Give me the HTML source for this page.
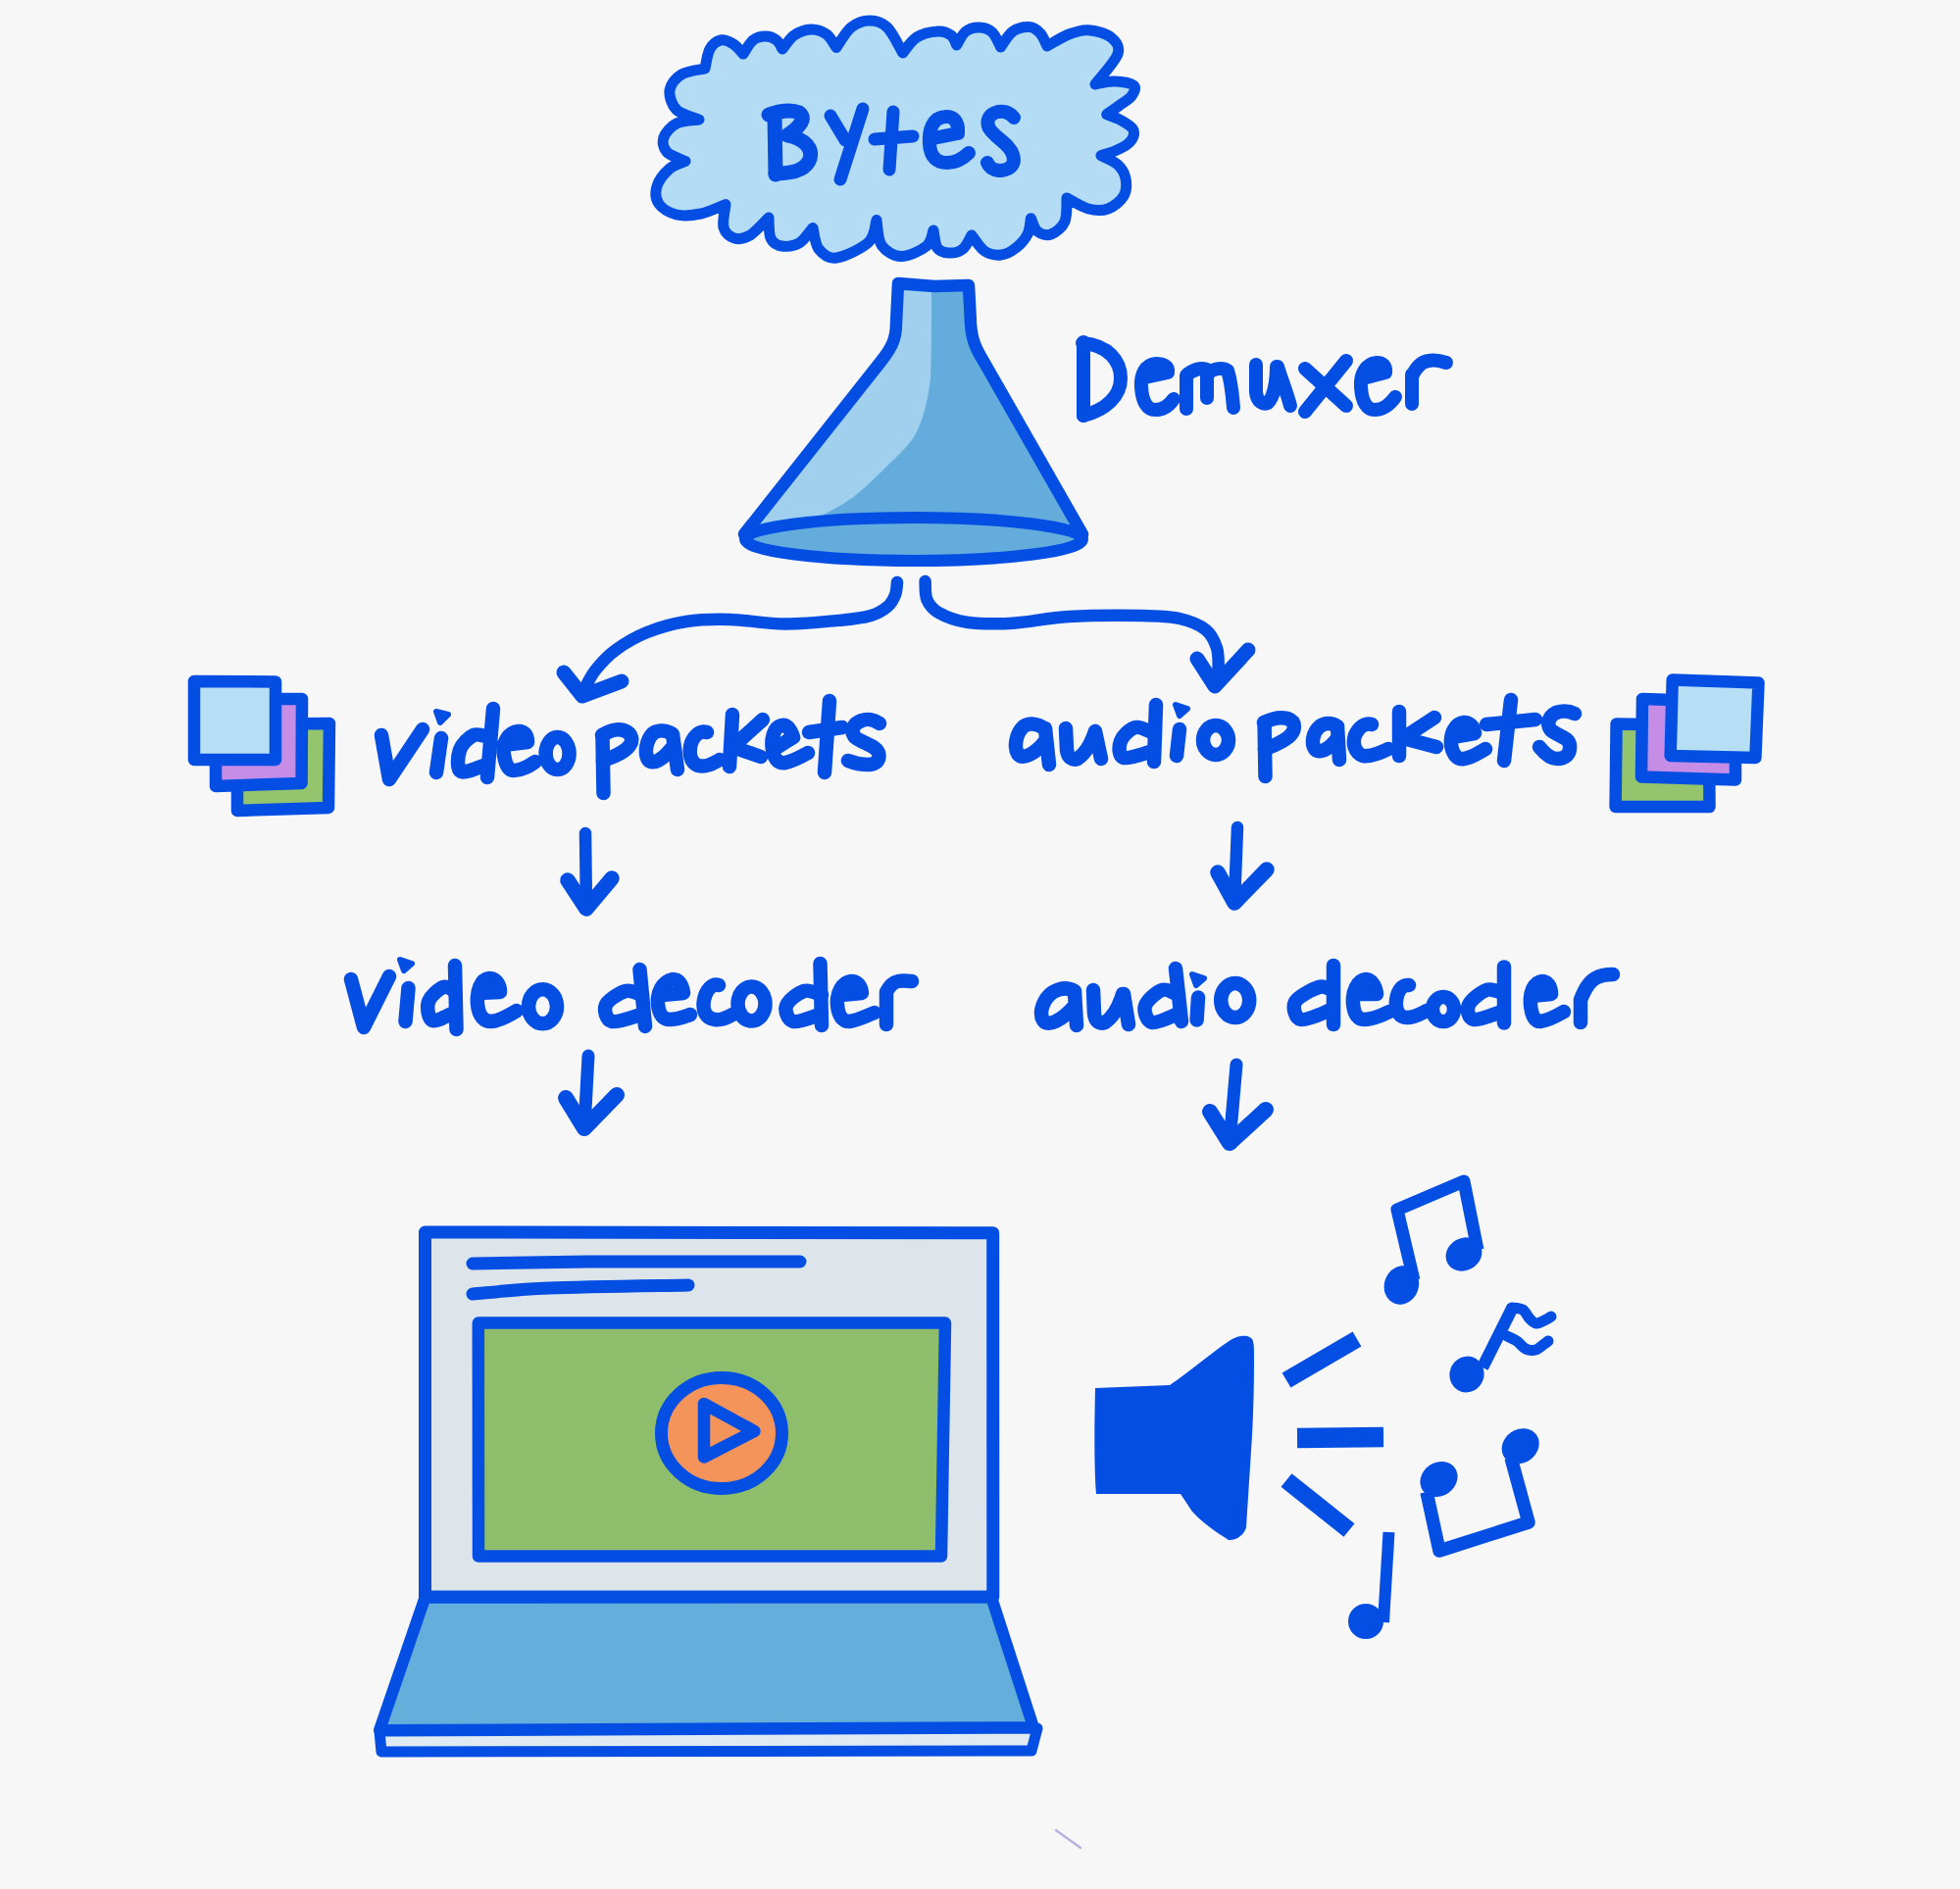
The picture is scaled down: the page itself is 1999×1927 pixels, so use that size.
<!DOCTYPE html>
<html><head><meta charset="utf-8"><title>Demuxer diagram</title>
<style>
html,body{margin:0;padding:0;background:#f7f7f7;width:1999px;height:1927px;overflow:hidden;font-family:"Liberation Sans",sans-serif;}
svg{display:block;position:absolute;left:0;top:0;}
</style></head><body>
<svg width="1999" height="1927" viewBox="0 0 1999 1927"><path d="M719,70 C719.8,66.7 721.3,54.8 724,50 C726.7,45.2 731,41.8 735,41 C739,40.2 744.2,42.7 748,45 C751.8,47.3 756.3,53.3 758,55 C759.7,52.7 764.2,44 768,41 C771.8,38 777,37 781,37 C785,37 789.2,38.8 792,41 C794.8,43.2 797,48.5 798,50 C800,47.7 805.2,39.3 810,36 C814.8,32.7 821.5,30.2 827,30 C832.5,29.8 838.7,31.9 843,35 C847.3,38.1 851.3,46.2 853,48.5 C855.5,45.1 862.3,32.6 868,28 C873.7,23.4 880.8,21 887,21 C893.2,21 899.4,22.5 905,28 C910.6,33.5 918.1,49.7 920.7,54 C923.1,51.3 929,41.7 935,38 C941,34.3 951.2,32.3 957,32 C962.8,31.7 966.9,33.7 970,36 C973.1,38.3 974.8,44.3 975.7,46 C977.2,43.7 981.1,35 985,32 C988.9,29 994.5,27.8 999,28 C1003.5,28.2 1008.4,29.7 1012,33 C1015.6,36.3 1019.2,45.5 1020.6,48 C1022.7,45.3 1028.1,35.4 1033,32 C1037.9,28.6 1045.3,27.2 1050,27.5 C1054.7,27.8 1058,30.8 1061,34 C1064,37.2 1066.8,44.8 1068,47 C1071.7,45 1083,37.7 1090,35 C1097,32.3 1102.8,30.2 1110,30.7 C1117.2,31.2 1128,34 1133,38 C1138,42 1142.7,47 1140,55 C1137.3,63 1120.8,80.8 1117,86 C1120.2,85.5 1129.5,82.8 1136,83 C1142.5,83.2 1153,84.5 1156,87 C1159,89.5 1156.5,94.5 1154,98 C1151.5,101.5 1145.2,104.9 1141,108 C1136.8,111.1 1130.8,115.2 1128.7,116.7 C1130.9,117.6 1137.6,119.6 1142,122 C1146.4,124.4 1152.7,128.2 1155,131 C1157.3,133.8 1156.8,136.3 1156,139 C1155.2,141.7 1153.2,144.5 1150,147 C1146.8,149.5 1141.5,152.1 1137,154 C1132.5,155.9 1125.3,157.8 1123,158.6 C1125.8,160.2 1135.8,164.1 1140,168 C1144.2,171.9 1147,176.7 1148,182 C1149,187.3 1149,194.8 1146,200 C1143,205.2 1136,210.8 1130,213 C1124,215.2 1117,214.8 1110,213 C1103,211.2 1091.7,203.8 1088,202 C1087.7,206 1088.7,219.8 1086,226 C1083.3,232.2 1076.7,237.3 1072,239 C1067.3,240.7 1061.4,238.7 1058,236 C1054.6,233.3 1052.5,224.9 1051.4,222.7 C1050.8,225.4 1050.6,233.9 1048,239 C1045.4,244.1 1040.5,249.5 1036,253 C1031.5,256.5 1026.3,259.5 1021,260 C1015.7,260.5 1009,259.3 1004,256 C999,252.7 993.2,242.7 991,240 C989.5,242.3 985.8,251 982,254 C978.2,257 972.3,258.2 968,258 C963.7,257.8 958.7,256.8 956,253 C953.3,249.2 952.7,238 952,235 C950.8,237.7 950.5,246.6 945,251 C939.5,255.4 926.7,261.8 919,261.6 C911.3,261.4 903.2,256.2 899,250 C894.8,243.8 894.8,228.8 894,224.5 C892.7,228.2 892.8,240.6 886,247 C879.2,253.4 861.5,261.8 853,263 C844.5,264.2 839,259.1 835,254 C831,248.9 830,236.1 829,232.5 C826.7,235.1 820.3,244.9 815,248 C809.7,251.1 801.8,251.8 797,251 C792.2,250.2 788.2,247.8 786,243 C783.8,238.2 784.3,225.5 784,222 C780.8,225 770.8,236.5 765,240 C759.2,243.5 753.5,244.3 749,243 C744.5,241.7 739.5,237.7 738,232 C736.5,226.3 739.7,212.5 740,208.6 C735.8,210.2 723.3,216.3 715,218 C706.7,219.7 697.2,220.7 690,219 C682.8,217.3 675.3,212.8 672,208 C668.7,203.2 668.2,196 670,190 C671.8,184 678.2,176.2 683,172 C687.8,167.8 696.3,165.8 699,164.5 C695.8,162.9 683.7,159.1 680,155 C676.3,150.9 675.3,144.8 677,140 C678.7,135.2 684,129 690,126 C696,123 709.2,122.7 713,122 C709.2,120.3 695,117 690,112 C685,107 682.2,98 683,92 C683.8,86 689,79.7 695,76 C701,72.3 715,71 719,70Z" fill="#b4dcf5" stroke="#044ee4" stroke-width="11" stroke-linecap="round" stroke-linejoin="round" />
<polyline points="790,117 791,178" fill="none" stroke="#044ee4" stroke-width="15" stroke-linecap="round" stroke-linejoin="round" />
<path d="M784,117 C796,113 808,112 815,115 C822,120 818,128 803,138 C822,142 829,152 826,162 C822,174 808,177 791,177" fill="none" stroke="#044ee4" stroke-width="15" stroke-linecap="round" stroke-linejoin="round" />
<polyline points="847,118 862,143" fill="none" stroke="#044ee4" stroke-width="13" stroke-linecap="round" stroke-linejoin="round" />
<polyline points="880,111 857,183" fill="none" stroke="#044ee4" stroke-width="13" stroke-linecap="round" stroke-linejoin="round" />
<polyline points="911,114 907,173" fill="none" stroke="#044ee4" stroke-width="13" stroke-linecap="round" stroke-linejoin="round" />
<polyline points="892,142 931,139" fill="none" stroke="#044ee4" stroke-width="13" stroke-linecap="round" stroke-linejoin="round" />
<path d="M952,141 L977,136 C978,125 973,118 964,119 C951,120 947,133 948,147 C949,161 956,166 966,166 C975,166 982,162 988,156" fill="none" stroke="#044ee4" stroke-width="14" stroke-linecap="round" stroke-linejoin="round" />
<path d="M1034,120 C1030,115 1024,113 1018,114 C1009,116 1005,123 1009,131 C1015,141 1030,147 1033,158 C1036,167 1031,173 1021,174 C1014,174 1009,171 1007,166" fill="none" stroke="#044ee4" stroke-width="14" stroke-linecap="round" stroke-linejoin="round" />
<polygon points="916,289 953,292 988,291 990,330 995,356 1004,370 1102,541 924,528 759,541 899,368 912,352 914,330" fill="#64acdc" stroke="#044ee4" stroke-width="0" stroke-linejoin="round" stroke="none"/>
<path d="M914,296 L950,298 C950,330 950,360 949,386 C946,410 942,428 932,446 C922,460 912,468 903,477 C893,487 885,495 874,504 C860,515 848,521 833,528 L765,538 L899,368 C910,354 914,345 914,330 Z" fill="#a6d4f0" opacity="0.9"/>
<ellipse cx="932" cy="550" rx="172" ry="22" fill="#64acdc" stroke="#044ee4" stroke-width="12"/>
<path d="M759,545 L899,368 C910,354 914,345 914,330 L916,289 L953,292 L988,291 L990,330 C991,345 994,354 1004,370 L1104,545" fill="none" stroke="#044ee4" stroke-width="12.5" stroke-linecap="round" stroke-linejoin="round" />
<polyline points="1105,349 1105,424" fill="none" stroke="#044ee4" stroke-width="14" stroke-linecap="round" stroke-linejoin="round" />
<path d="M1104,350 C1130,352 1143,368 1143,386 C1143,404 1128,418 1105,424" fill="none" stroke="#044ee4" stroke-width="14" stroke-linecap="round" stroke-linejoin="round" />
<path d="M1168,385 L1191,380 C1192,373 1186,371 1179,371 C1168,372 1163,382 1164,395 C1165,410 1170,418 1178,418 C1187,418 1193,413 1197,407" fill="none" stroke="#044ee4" stroke-width="14" stroke-linecap="round" stroke-linejoin="round" />
<path d="M1210,417 L1210,383 C1215,378 1225,374 1231,377 L1231,406 M1231,382 C1237,376 1246,374 1252,378 C1256,390 1257,404 1258,416" fill="none" stroke="#044ee4" stroke-width="14" stroke-linecap="round" stroke-linejoin="round" />
<path d="M1281,372 L1281,400 C1282,410 1288,413 1293,411 C1299,405 1302,390 1302,374 M1303,374 C1308,390 1313,402 1316,414" fill="none" stroke="#044ee4" stroke-width="14" stroke-linecap="round" stroke-linejoin="round" />
<polyline points="1331,376 1373,414" fill="none" stroke="#044ee4" stroke-width="14" stroke-linecap="round" stroke-linejoin="round" />
<polyline points="1373,368 1331,420" fill="none" stroke="#044ee4" stroke-width="14" stroke-linecap="round" stroke-linejoin="round" />
<path d="M1394,385 L1413,380 C1414,373 1410,370 1404,370 C1393,371 1387,382 1388,395 C1389,410 1394,418 1402,418 C1411,418 1418,412 1423,405" fill="none" stroke="#044ee4" stroke-width="14" stroke-linecap="round" stroke-linejoin="round" />
<path d="M1440,382 L1440,412 M1440,384 C1444,375 1450,369 1457,368 C1463,367 1469,368 1475,370" fill="none" stroke="#044ee4" stroke-width="14" stroke-linecap="round" stroke-linejoin="round" />
<path d="M915,594 C914.7,596.2 914.7,602.8 913,607 C911.3,611.2 909.2,615.5 905,619 C900.8,622.5 895.5,625.8 888,628 C880.5,630.2 874.7,631.1 860,632.5 C845.3,633.9 819.2,636.6 800,636.5 C780.8,636.4 761.7,632.4 745,632 C728.3,631.6 714.2,631.8 700,634 C685.8,636.2 672,640.2 660,645 C648,649.8 636.8,656.5 628,663 C619.2,669.5 612.5,677 607,684 C601.5,691 597,701.5 595,705" fill="none" stroke="#044ee4" stroke-width="12.5" stroke-linecap="round" stroke-linejoin="round" />
<polyline points="575,686 594,710 634,695" fill="none" stroke="#044ee4" stroke-width="15" stroke-linecap="round" stroke-linejoin="round" />
<path d="M943.6,593 C943.9,596.2 943.1,606.6 945.5,612 C947.9,617.4 951,621.5 957.8,625.3 C964.5,629.1 973.5,633 986,634.7 C998.5,636.4 1015.7,636.7 1033,635.7 C1050.3,634.8 1068,630.3 1090,629 C1112,627.7 1146.2,627.7 1165,628 C1183.8,628.3 1192.2,628.6 1203,631 C1213.8,633.4 1223.3,637.3 1229.6,642.3 C1235.9,647.3 1238.8,653.9 1241,661 C1243.2,668.1 1242.7,678.7 1242.5,685 C1242.3,691.3 1240.4,696.7 1240,699" fill="none" stroke="#044ee4" stroke-width="12.5" stroke-linecap="round" stroke-linejoin="round" />
<polyline points="1221,672 1239,700 1273,663" fill="none" stroke="#044ee4" stroke-width="15" stroke-linecap="round" stroke-linejoin="round" />
<polygon points="242,739 336,738 335,824 242,827" fill="#95c46e" stroke="#044ee4" stroke-width="12.5" stroke-linejoin="round" />
<polygon points="220,713 308,713 307.6,799 220,802" fill="#c58de6" stroke="#044ee4" stroke-width="12.5" stroke-linejoin="round" />
<polygon points="198,695 281,695.5 281,775 198,775" fill="#b6def5" stroke="#044ee4" stroke-width="12.5" stroke-linejoin="round" />
<polygon points="1648.6,738.4 1743,740 1743.5,823 1647.6,823" fill="#95c46e" stroke="#044ee4" stroke-width="12.5" stroke-linejoin="round" />
<polygon points="1675,713 1770,716 1770,795.5 1674,792.4" fill="#c58de6" stroke="#044ee4" stroke-width="12.5" stroke-linejoin="round" />
<polygon points="1705.7,693.5 1793.5,696.5 1790.4,773 1703.7,771" fill="#b6def5" stroke="#044ee4" stroke-width="12.5" stroke-linejoin="round" />
<polyline points="389,750 397,795 431,744" fill="none" stroke="#044ee4" stroke-width="14.5" stroke-linecap="round" stroke-linejoin="round" />
<polygon points="445,726 457,729 449,737" fill="#044ee4" stroke="#044ee4" stroke-width="6" stroke-linejoin="round"/>
<polyline points="450,753 445,788" fill="none" stroke="#044ee4" stroke-width="14.5" stroke-linecap="round" stroke-linejoin="round" />
<polyline points="503,723 497,793" fill="none" stroke="#044ee4" stroke-width="14.5" stroke-linecap="round" stroke-linejoin="round" />
<path d="M499,752 C496.3,751.7 488,747.8 483,750 C478,752.2 471.2,758.8 469,765 C466.8,771.2 465.5,784.5 470,787 C474.5,789.5 491.7,781.2 496,780" fill="none" stroke="#044ee4" stroke-width="14.5" stroke-linecap="round" stroke-linejoin="round" />
<path d="M513,760 L538,757 C538,749 534,746 529,746 C518,747 512,758 514,770 C516,783 520,786 524,786 C533,786 540,781 546,777" fill="none" stroke="#044ee4" stroke-width="14.5" stroke-linecap="round" stroke-linejoin="round" />
<ellipse cx="568.6" cy="768.6" rx="12" ry="16.5" fill="none" stroke="#044ee4" stroke-width="14.5"/>
<polyline points="614.5,752 615.5,809" fill="none" stroke="#044ee4" stroke-width="14.5" stroke-linecap="round" stroke-linejoin="round" />
<path d="M614,750 C622,745 630,743 636,745 C645,748 647,756 640,763 C633,770 622,773 615,776" fill="none" stroke="#044ee4" stroke-width="14.5" stroke-linecap="round" stroke-linejoin="round" />
<path d="M686,749 C680,745 672,744 666,748 C659,755 657,768 661,775 C666,781 676,775 686,762 M686,749 L691,785" fill="none" stroke="#044ee4" stroke-width="14.5" stroke-linecap="round" stroke-linejoin="round" />
<path d="M721,747 C714,745 708,750 705,758 C702,768 704,778 712,781 C720,783 727,779 734,775" fill="none" stroke="#044ee4" stroke-width="14.5" stroke-linecap="round" stroke-linejoin="round" />
<polyline points="747,729 744,782" fill="none" stroke="#044ee4" stroke-width="14.5" stroke-linecap="round" stroke-linejoin="round" />
<polyline points="778,734 747,762 776,772" fill="none" stroke="#044ee4" stroke-width="14.5" stroke-linecap="round" stroke-linejoin="round" />
<path d="M790,764 L809,752 C806,743 802,739 797,740 C789,742 786,754 788,765 C790,776 795,779 801,778 C810,776 817,772 824,768" fill="none" stroke="#044ee4" stroke-width="14.5" stroke-linecap="round" stroke-linejoin="round" />
<polyline points="846,715 841,788" fill="none" stroke="#044ee4" stroke-width="14.5" stroke-linecap="round" stroke-linejoin="round" />
<polyline points="825,747 859,742" fill="none" stroke="#044ee4" stroke-width="14.5" stroke-linecap="round" stroke-linejoin="round" />
<path d="M897,738 C891,734 884,733 879,735 C870,738 867,746 872,752 C879,758 893,760 896,768 C898,776 893,780 885,780 C877,780 870,778 865,776" fill="none" stroke="#044ee4" stroke-width="14.5" stroke-linecap="round" stroke-linejoin="round" />
<path d="M1065,743 C1058,738 1050,737 1044,741 C1036,748 1034,762 1038,769 C1043,775 1055,770 1066,756 M1066,743 L1070,780" fill="none" stroke="#044ee4" stroke-width="14.5" stroke-linecap="round" stroke-linejoin="round" />
<path d="M1087,743 L1088,765 C1089,773 1094,776 1099,774 C1108,768 1114,755 1117,746 M1117,746 L1123,774" fill="none" stroke="#044ee4" stroke-width="14.5" stroke-linecap="round" stroke-linejoin="round" />
<polyline points="1179,719 1177,777" fill="none" stroke="#044ee4" stroke-width="14.5" stroke-linecap="round" stroke-linejoin="round" />
<path d="M1177,748 C1173.8,747 1163.7,740.7 1158,742 C1152.3,743.3 1145,750.8 1143,756 C1141,761.2 1140.5,771.3 1146,773 C1151.5,774.7 1171,767.2 1176,766" fill="none" stroke="#044ee4" stroke-width="14.5" stroke-linecap="round" stroke-linejoin="round" />
<polygon points="1199,719 1211,723 1203,730" fill="#044ee4" stroke="#044ee4" stroke-width="6" stroke-linejoin="round"/>
<polyline points="1203,744 1200,771" fill="none" stroke="#044ee4" stroke-width="14.5" stroke-linecap="round" stroke-linejoin="round" />
<ellipse cx="1240" cy="755" rx="13" ry="15" fill="none" stroke="#044ee4" stroke-width="14.5"/>
<polyline points="1289.6,739 1290.5,792" fill="none" stroke="#044ee4" stroke-width="14.5" stroke-linecap="round" stroke-linejoin="round" />
<path d="M1289,737 C1297,733 1306,731 1313,733 C1322,736 1322,745 1314,752 C1306,758 1296,762 1290,764" fill="none" stroke="#044ee4" stroke-width="14.5" stroke-linecap="round" stroke-linejoin="round" />
<path d="M1364,741 C1358,737 1351,737 1346,741 C1339,747 1337,758 1341,764 C1346,769 1355,765 1364,753 M1364,741 L1366,775" fill="none" stroke="#044ee4" stroke-width="14.5" stroke-linecap="round" stroke-linejoin="round" />
<path d="M1399,739 C1392,737 1386,742 1382,750 C1379,759 1382,768 1390,771 C1398,772 1406,769 1416,764" fill="none" stroke="#044ee4" stroke-width="14.5" stroke-linecap="round" stroke-linejoin="round" />
<polyline points="1427,726 1427,771" fill="none" stroke="#044ee4" stroke-width="14.5" stroke-linecap="round" stroke-linejoin="round" />
<polyline points="1463,732 1431,753 1465,762" fill="none" stroke="#044ee4" stroke-width="14.5" stroke-linecap="round" stroke-linejoin="round" />
<path d="M1481,752 L1504,748 C1503,740 1498,737 1493,737 C1484,738 1479,748 1480,760 C1482,771 1487,775 1493,774 C1501,773 1508,768 1515,764" fill="none" stroke="#044ee4" stroke-width="14.5" stroke-linecap="round" stroke-linejoin="round" />
<polyline points="1541,714 1534,776" fill="none" stroke="#044ee4" stroke-width="14.5" stroke-linecap="round" stroke-linejoin="round" />
<polyline points="1516,739 1566,734" fill="none" stroke="#044ee4" stroke-width="14.5" stroke-linecap="round" stroke-linejoin="round" />
<path d="M1606,728 C1600,725 1593,725 1587,727 C1579,731 1577,739 1582,745 C1589,751 1600,752 1601,760 C1602,770 1596,774 1588,774 C1580,774 1574,767 1570,762" fill="none" stroke="#044ee4" stroke-width="14.5" stroke-linecap="round" stroke-linejoin="round" />
<polyline points="597,850 598,927" fill="none" stroke="#044ee4" stroke-width="12.5" stroke-linecap="round" stroke-linejoin="round" />
<polyline points="579,898 598,927 624,896" fill="none" stroke="#044ee4" stroke-width="15.5" stroke-linecap="round" stroke-linejoin="round" />
<polyline points="1262,844 1259,921" fill="none" stroke="#044ee4" stroke-width="12.5" stroke-linecap="round" stroke-linejoin="round" />
<polyline points="1242,890 1259,921 1292,887" fill="none" stroke="#044ee4" stroke-width="15.5" stroke-linecap="round" stroke-linejoin="round" />
<polyline points="600,1077 596,1151" fill="none" stroke="#044ee4" stroke-width="13" stroke-linecap="round" stroke-linejoin="round" />
<polyline points="577,1120 596,1151 629,1117" fill="none" stroke="#044ee4" stroke-width="16" stroke-linecap="round" stroke-linejoin="round" />
<polyline points="1261,1086 1254,1166" fill="none" stroke="#044ee4" stroke-width="13" stroke-linecap="round" stroke-linejoin="round" />
<polyline points="1234,1134 1254,1166 1291,1132" fill="none" stroke="#044ee4" stroke-width="16" stroke-linecap="round" stroke-linejoin="round" />
<polyline points="358,999 371,1048 397,996" fill="none" stroke="#044ee4" stroke-width="14.5" stroke-linecap="round" stroke-linejoin="round" />
<polygon points="408,979 420,983 412,990" fill="#044ee4" stroke="#044ee4" stroke-width="6" stroke-linejoin="round"/>
<polyline points="416.5,1008 413.5,1042" fill="none" stroke="#044ee4" stroke-width="14.5" stroke-linecap="round" stroke-linejoin="round" />
<polyline points="464,985 465.5,1050" fill="none" stroke="#044ee4" stroke-width="14.5" stroke-linecap="round" stroke-linejoin="round" />
<path d="M464,1011 C462,1010.3 456.5,1005.2 452,1007 C447.5,1008.8 438.8,1016.3 437,1022 C435.2,1027.7 436.7,1039.2 441,1041 C445.3,1042.8 459.3,1034.3 463,1033" fill="none" stroke="#044ee4" stroke-width="14.5" stroke-linecap="round" stroke-linejoin="round" />
<path d="M488,1013 L510,1012 C510,1003 505,998 499,998 C490,999 486,1011 487,1024 C488,1037 494,1042 501,1042 C510,1041 519,1036 527,1031" fill="none" stroke="#044ee4" stroke-width="14.5" stroke-linecap="round" stroke-linejoin="round" />
<ellipse cx="553.5" cy="1026.8" rx="14.5" ry="17.5" fill="none" stroke="#044ee4" stroke-width="14.5"/>
<polyline points="652.5,989 658,1047" fill="none" stroke="#044ee4" stroke-width="14.5" stroke-linecap="round" stroke-linejoin="round" />
<path d="M655,1015 C652.2,1014.3 644.2,1009.3 638,1011 C631.8,1012.7 620.3,1019.8 618,1025 C615.7,1030.2 618,1040.3 624,1042 C630,1043.7 649,1036.2 654,1035" fill="none" stroke="#044ee4" stroke-width="14.5" stroke-linecap="round" stroke-linejoin="round" />
<path d="M676,1015 L697,1013 C696,1004 692,999 686,999 C676,1001 670,1012 671,1024 C672,1036 677,1040 683,1040 C691,1040 698,1037 704,1035" fill="none" stroke="#044ee4" stroke-width="14.5" stroke-linecap="round" stroke-linejoin="round" />
<path d="M733,1005 C726,1003 720,1010 718,1020 C716,1031 720,1039 729,1040 C736,1041 742,1038 747,1035" fill="none" stroke="#044ee4" stroke-width="14.5" stroke-linecap="round" stroke-linejoin="round" />
<ellipse cx="766.5" cy="1024" rx="14" ry="17.5" fill="none" stroke="#044ee4" stroke-width="14.5"/>
<polyline points="836.5,983 838,1046" fill="none" stroke="#044ee4" stroke-width="14.5" stroke-linecap="round" stroke-linejoin="round" />
<path d="M838,1015 C835,1014.3 826,1009.2 820,1011 C814,1012.8 803.8,1020.8 802,1026 C800.2,1031.2 803.3,1040.5 809,1042 C814.7,1043.5 831.5,1036.2 836,1035" fill="none" stroke="#044ee4" stroke-width="14.5" stroke-linecap="round" stroke-linejoin="round" />
<path d="M858,1015 L879,1013 C878,1005 874,1001 868,1001 C859,1002 853,1013 854,1025 C855,1037 860,1042 866,1042 C875,1041 884,1036 892,1033" fill="none" stroke="#044ee4" stroke-width="14.5" stroke-linecap="round" stroke-linejoin="round" />
<path d="M904,1045 L904,1012 C907,1006 911,1002 916,1001 C921,1000 926,1001 930,1001" fill="none" stroke="#044ee4" stroke-width="14.5" stroke-linecap="round" stroke-linejoin="round" />
<path d="M1096,1011 C1089,1007 1081,1008 1074,1012 C1064,1019 1059,1033 1064,1041 C1069,1048 1083,1041 1096,1026 M1096,1012 L1098,1046" fill="none" stroke="#044ee4" stroke-width="14.5" stroke-linecap="round" stroke-linejoin="round" />
<path d="M1115,1010 L1116,1034 C1117,1043 1122,1045 1127,1043 C1136,1037 1142,1024 1145,1014 M1146,1014 L1151,1045" fill="none" stroke="#044ee4" stroke-width="14.5" stroke-linecap="round" stroke-linejoin="round" />
<polyline points="1199,988 1205,1042" fill="none" stroke="#044ee4" stroke-width="14.5" stroke-linecap="round" stroke-linejoin="round" />
<path d="M1200,1014 C1197.5,1013.3 1190.3,1008 1185,1010 C1179.7,1012 1169.7,1020.5 1168,1026 C1166.3,1031.5 1169.3,1041.7 1175,1043 C1180.7,1044.3 1197.5,1035.5 1202,1034" fill="none" stroke="#044ee4" stroke-width="14.5" stroke-linecap="round" stroke-linejoin="round" />
<polygon points="1216,994 1228,998 1220,1005" fill="#044ee4" stroke="#044ee4" stroke-width="6" stroke-linejoin="round"/>
<polyline points="1222,1017.6 1220.6,1040.5" fill="none" stroke="#044ee4" stroke-width="14.5" stroke-linecap="round" stroke-linejoin="round" />
<ellipse cx="1259.7" cy="1020.6" rx="14.5" ry="17.5" fill="none" stroke="#044ee4" stroke-width="14.5"/>
<polyline points="1360,985 1360,1045" fill="none" stroke="#044ee4" stroke-width="14.5" stroke-linecap="round" stroke-linejoin="round" />
<path d="M1359,1010 C1356.7,1009.5 1351.3,1005 1345,1007 C1338.7,1009 1324,1016.5 1321,1022 C1318,1027.5 1320.8,1038.7 1327,1040 C1333.2,1041.3 1352.8,1031.7 1358,1030" fill="none" stroke="#044ee4" stroke-width="14.5" stroke-linecap="round" stroke-linejoin="round" />
<path d="M1382,1014 L1404,1014 C1403,1005 1398,999 1393,999 C1384,1000 1379,1012 1380,1024 C1381,1036 1386,1040 1391,1040 C1400,1040 1409,1036 1417,1032" fill="none" stroke="#044ee4" stroke-width="14.5" stroke-linecap="round" stroke-linejoin="round" />
<path d="M1437,1005 C1430,1004 1425,1011 1424,1021 C1423,1031 1427,1038 1435,1038 C1443,1038 1449,1034 1455,1031" fill="none" stroke="#044ee4" stroke-width="14.5" stroke-linecap="round" stroke-linejoin="round" />
<ellipse cx="1472" cy="1029.6" rx="11" ry="12.5" fill="none" stroke="#044ee4" stroke-width="14.5"/>
<polyline points="1534,986.5 1534,1043.5" fill="none" stroke="#044ee4" stroke-width="14.5" stroke-linecap="round" stroke-linejoin="round" />
<path d="M1533,1013 C1530.2,1012.5 1521.8,1008 1516,1010 C1510.2,1012 1500.2,1020 1498,1025 C1495.8,1030 1497.3,1038.8 1503,1040 C1508.7,1041.2 1527.2,1033.3 1532,1032" fill="none" stroke="#044ee4" stroke-width="14.5" stroke-linecap="round" stroke-linejoin="round" />
<path d="M1562,1016 L1582,1014 C1582,1006 1578,1001 1573,1001 C1564,1002 1560,1013 1561,1025 C1562,1037 1566,1042 1571,1042 C1580,1041 1588,1036 1595,1032" fill="none" stroke="#044ee4" stroke-width="14.5" stroke-linecap="round" stroke-linejoin="round" />
<path d="M1612,1043 L1612,1020 C1616,1010 1620,1002 1627,998 C1632,995 1638,994 1645,994" fill="none" stroke="#044ee4" stroke-width="14.5" stroke-linecap="round" stroke-linejoin="round" />
<polygon points="433.5,1629.5 1011,1629 1054,1762 387,1765" fill="#64aedb" stroke="#044ee4" stroke-width="12" stroke-linejoin="round" />
<path d="M387,1766 L1058,1763 L1052,1786 L389,1787 Z" fill="#dfeaf3" stroke="#044ee4" stroke-width="11" stroke-linejoin="round"/>
<polygon points="433.5,1257 1012.7,1257.7 1012.8,1629 433.5,1629" fill="#dde4ea" stroke="#044ee4" stroke-width="13" stroke-linejoin="round" />
<polyline points="482,1289 600,1287 816,1287" fill="none" stroke="#044ee4" stroke-width="13" stroke-linecap="round" stroke-linejoin="round" />
<path d="M482,1320 C495,1319 523.3,1315.5 560,1314 C596.7,1312.5 678.3,1311.5 702,1311" fill="none" stroke="#044ee4" stroke-width="13" stroke-linecap="round" stroke-linejoin="round" />
<polygon points="487.8,1349.6 964,1349.6 960,1587.5 488,1587.5" fill="#8ebd6c" stroke="#044ee4" stroke-width="12.5" stroke-linejoin="round" />
<ellipse cx="736" cy="1462" rx="61.5" ry="56.5" fill="#f5945a" stroke="#044ee4" stroke-width="13"/>
<polygon points="718,1432 769.4,1460 718,1486.4" fill="none" stroke="#044ee4" stroke-width="12.5" stroke-linejoin="round" />
<path d="M1117,1416 L1193,1413 C1215,1398 1238,1378 1255,1367 C1263,1362 1273,1361 1277,1366 C1279,1369 1279,1375 1279,1385 C1279,1420 1278,1450 1276,1480 L1271,1558 C1269,1566 1260,1572 1253,1571 C1240,1563 1225,1552 1216,1542 L1204,1524 L1118,1524 C1116,1500 1116,1460 1117,1416 Z" fill="#044ee4"/>
<polyline points="1312,1408 1384,1366" fill="none" stroke="#044ee4" stroke-width="17.5" stroke-linecap="butt" stroke-linejoin="round" />
<polyline points="1323,1467 1411,1466" fill="none" stroke="#044ee4" stroke-width="20.5" stroke-linecap="butt" stroke-linejoin="round" />
<polyline points="1312,1510 1376,1561" fill="none" stroke="#044ee4" stroke-width="17.5" stroke-linecap="butt" stroke-linejoin="round" />
<polyline points="1442,1306 1425,1234 1493,1205 1507,1275" fill="none" stroke="#044ee4" stroke-width="13" stroke-linecap="butt" stroke-linejoin="round" />
<ellipse cx="1429.4" cy="1311" rx="17.5" ry="20" transform="rotate(20 1429.4 1311)" fill="#044ee4"/>
<ellipse cx="1493" cy="1279.5" rx="19" ry="16.5" transform="rotate(-30 1493 1279.5)" fill="#044ee4"/>
<polyline points="1543,1333 1512,1395" fill="none" stroke="#044ee4" stroke-width="12.5" stroke-linecap="butt" stroke-linejoin="round" />
<ellipse cx="1496" cy="1402" rx="17.5" ry="18.5" transform="rotate(20 1496 1402)" fill="#044ee4"/>
<path d="M1542,1334 C1543.8,1334.3 1550,1334.2 1553,1336 C1556,1337.8 1557.7,1342.7 1560,1345 C1562.3,1347.3 1564.5,1349.7 1567,1350 C1569.5,1350.3 1572.5,1348.2 1575,1347 C1577.5,1345.8 1580.8,1343.7 1582,1343" fill="none" stroke="#044ee4" stroke-width="11" stroke-linecap="round" stroke-linejoin="round" />
<path d="M1537,1363 C1538.7,1363.8 1543.8,1365.8 1547,1368 C1550.2,1370.2 1552.8,1374.5 1556,1376 C1559.2,1377.5 1562.8,1377.8 1566,1377 C1569.2,1376.2 1572.8,1372.5 1575,1371 C1577.2,1369.5 1578.3,1368.5 1579,1368" fill="none" stroke="#044ee4" stroke-width="11" stroke-linecap="round" stroke-linejoin="round" />
<polyline points="1416.5,1563 1411,1655" fill="none" stroke="#044ee4" stroke-width="12" stroke-linecap="butt" stroke-linejoin="round" />
<ellipse cx="1393" cy="1654" rx="18" ry="18" fill="#044ee4"/>
<polyline points="1455,1522 1468,1582 1559,1553 1541,1487" fill="none" stroke="#044ee4" stroke-width="13.5" stroke-linecap="butt" stroke-linejoin="round" />
<ellipse cx="1467.5" cy="1509" rx="20" ry="17" transform="rotate(-35 1467.5 1509)" fill="#044ee4"/>
<ellipse cx="1550.7" cy="1475.3" rx="20" ry="17" transform="rotate(-35 1550.7 1475.3)" fill="#044ee4"/>
<polyline points="1077,1867 1102,1885" fill="none" stroke="#b9b3de" stroke-width="2.5" stroke-linecap="round" stroke-linejoin="round" /></svg>
</body></html>
